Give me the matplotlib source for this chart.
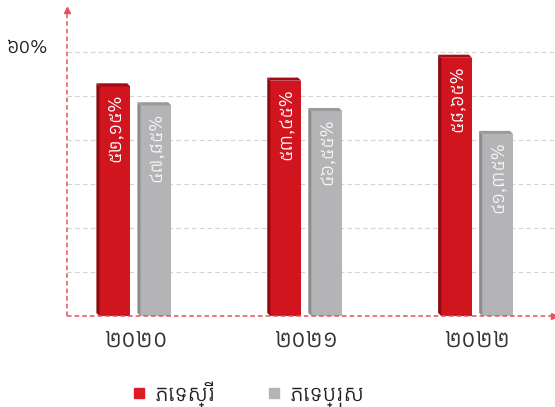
import matplotlib
matplotlib.use("Agg")
import matplotlib.pyplot as plt
from matplotlib.lines import Line2D
from matplotlib.transforms import ScaledTranslation
import numpy as np

years = ["២០២០", "២០២១", "២០២២"]
female = [52.15, 53.45, 58.65]
male = [47.85, 46.55, 41.35]
female_labels = ["៥២,១៥%", "៥៣,៤៥%", "៥៨,៦៥%"]
male_labels = ["៤៧,៨៥%", "៤៦,៥៥%", "៤១,៣៥%"]
series_names = ["ភេទស្រី", "ភេទប្រុស"]
ytick_vals = [60]
ytick_labels = ["៦០%"]

KH = ["Kantumruy Pro", "Noto Sans Khmer", "DejaVu Sans"]
plt.rcParams['font.family'] = KH

RED, RED_SIDE, RED_TOP = "#d0151f", "#8a0a10", "#a10d14"
GRAY, GRAY_SIDE, GRAY_TOP = "#b4b4b7", "#8d8d90", "#9a9a9d"

fig = plt.figure(figsize=(5.55, 4.07), dpi=100)
ax = fig.add_axes([67/555, 91/407, 1 - 67/555, (316-10)/407])
ax.set_xlim(-0.40, 2.456)
ax.set_ylim(0, 69.5)

x = np.arange(len(years))
w = 0.18
off = 0.12
d = 0.018   # depth of side face (x units)
e = 0.7     # depth of top face (y units)

def bar3d(xc, h, c_front, c_side, c_top):
    x0, x1 = xc - w/2, xc + w/2
    ax.bar(xc, h, width=w, color=c_front, zorder=3, linewidth=0)
    ax.fill([x0, x0, x0-d, x0-d], [0, h, h+e, e], color=c_side, zorder=3, lw=0)
    ax.fill([x0, x1, x1-d, x0-d], [h, h, h+e, h+e], color=c_top, zorder=3, lw=0)

for i in range(len(years)):
    bar3d(x[i]-off, female[i], RED, RED_SIDE, RED_TOP)
    bar3d(x[i]+off, male[i], GRAY, GRAY_SIDE, GRAY_TOP)
    ax.text(x[i]-off, female[i]-1.8, female_labels[i], rotation=90, ha="center", va="top",
            color="white", fontsize=13.5, zorder=5)
    ax.text(x[i]+off, male[i]-1.8, male_labels[i], rotation=90, ha="center", va="top",
            color="#f6f6f6", fontsize=13.5, zorder=5)

# grid
for gy in [10, 20, 30, 40, 50, 60]:
    ax.axhline(gy, color="#d4d4d4", lw=0.8, ls=(0, (4, 3)), zorder=1)

for s in ax.spines.values():
    s.set_visible(False)

# axes lines with arrows
ax.plot([0, 0], [0, 1], transform=ax.transAxes, color="#e8505a", lw=1.1, ls=(0, (3, 2)), clip_on=False, zorder=4)
ax.plot([0, 1], [0, 0], transform=ax.transAxes, color="#e8505a", lw=1.1, ls=(0, (3, 2)), clip_on=False, zorder=4)
ax.plot([0], [1], marker="^", color="#e8505a", ms=4, transform=ax.transAxes, clip_on=False)
ax.plot([0.997], [0], marker=">", color="#e8505a", ms=4, transform=ax.transAxes, clip_on=False)

ax.set_yticks(ytick_vals)
ax.set_yticklabels(ytick_labels, fontsize=14.5, color="#222222")
ax.tick_params(axis="y", length=0, pad=14)
for lbl in ax.get_yticklabels():
    lbl.set_transform(lbl.get_transform() + ScaledTranslation(0, 4/72, fig.dpi_scale_trans))
ax.set_xticks(x)
ax.set_xticklabels(years, fontsize=17.5, color="#333333")
ax.tick_params(axis="x", length=0, pad=9)

handles = [Line2D([], [], marker="s", ls="", color="#dc1c26", ms=7),
           Line2D([], [], marker="s", ls="", color=GRAY, ms=7)]
fig.legend(handles, series_names, loc="center left", bbox_to_anchor=(106/555, 1 - 394/407),
           ncol=2, frameon=False, fontsize=16, handletextpad=0.1, columnspacing=2.0,
           handlelength=1.2, labelcolor="#222222")

fig.savefig("out.png", dpi=100)
